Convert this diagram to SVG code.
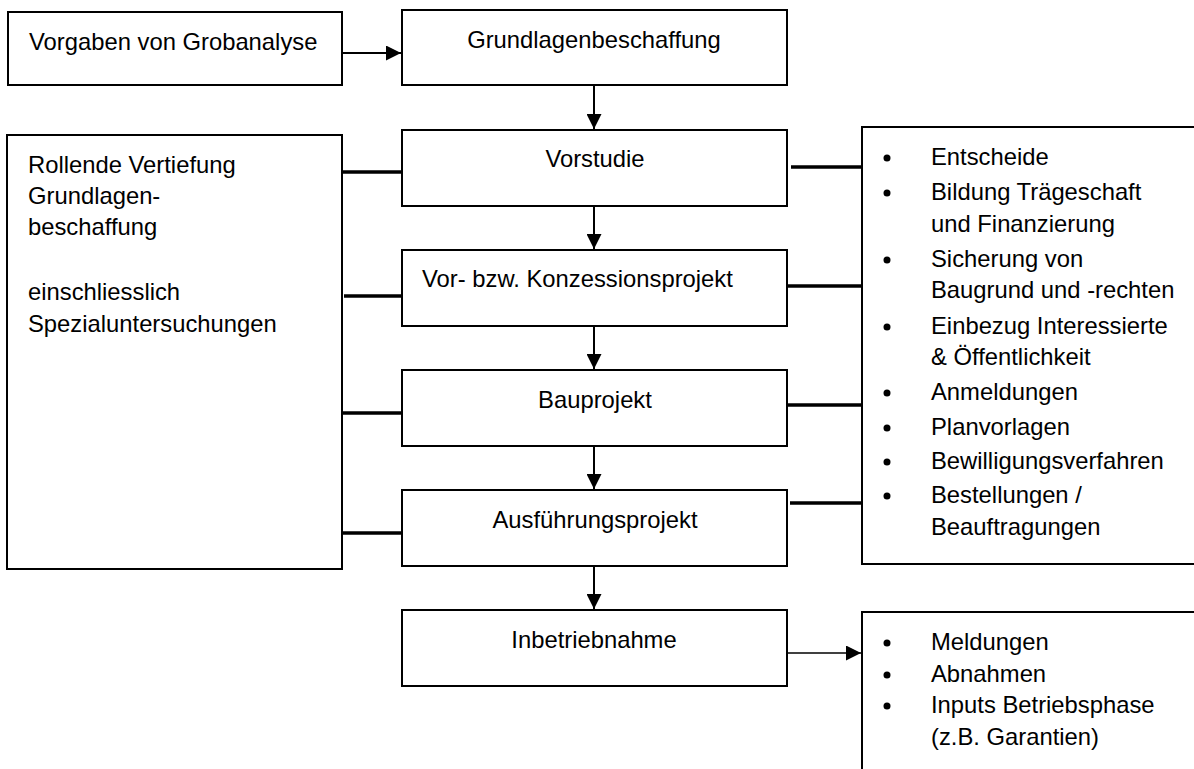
<svg xmlns="http://www.w3.org/2000/svg" width="1194" height="769" viewBox="0 0 1194 769">
<style>
text{font-family:"Liberation Sans",Arial,sans-serif;font-size:23.8px;fill:#000}
.box{fill:#fff;stroke:#000;stroke-width:2}
.c{text-anchor:middle}
.arr{stroke:#000;stroke-width:2;fill:none}
.thin{stroke:#000;stroke-width:1.5;fill:none}
.thick{stroke:#000;stroke-width:3.5;fill:none}
</style>
<defs>
<marker id="ah" markerWidth="8" markerHeight="8" refX="8" refY="4" orient="auto" markerUnits="userSpaceOnUse" viewBox="0 0 8 8">
<path d="M0,0 L8,4 L0,8 Z" fill="#000"/>
</marker>
<marker id="ahb" markerWidth="15" markerHeight="15" refX="15" refY="7.5" orient="auto" markerUnits="userSpaceOnUse" viewBox="0 0 15 15">
<path d="M0,0 L15,7.5 L0,15 Z" fill="#000"/>
</marker>
</defs>
<g id="connectors">
<line class="arr" x1="342" y1="53" x2="401" y2="53" marker-end="url(#ahb)"/>
<line class="arr" x1="594" y1="85" x2="594" y2="129" marker-end="url(#ahb)"/>
<line class="arr" x1="594" y1="205" x2="594" y2="249" marker-end="url(#ahb)"/>
<line class="arr" x1="594" y1="326" x2="594" y2="369" marker-end="url(#ahb)"/>
<line class="arr" x1="594" y1="446" x2="594" y2="489" marker-end="url(#ahb)"/>
<line class="arr" x1="594" y1="566" x2="594" y2="609" marker-end="url(#ahb)"/>
<line class="thick" x1="342" y1="172" x2="401" y2="172"/>
<line class="thick" x1="344" y1="296" x2="401" y2="296"/>
<line class="thick" x1="342" y1="413" x2="401" y2="413"/>
<line class="thick" x1="342" y1="533" x2="401" y2="533"/>
<line class="thick" x1="791" y1="167" x2="862" y2="167"/>
<line class="thick" x1="788" y1="286" x2="862" y2="286"/>
<line class="thick" x1="788" y1="405" x2="862" y2="405"/>
<line class="thick" x1="790" y1="503" x2="862" y2="503"/>
<line class="thin" x1="782" y1="653" x2="861" y2="653" marker-end="url(#ahb)"/>
</g>
<g id="vorgaben">
<rect class="box" x="8" y="12" width="334" height="73"/>
<text x="29" y="50">Vorgaben von Grobanalyse</text>
</g>
<g id="grundlagen">
<rect class="box" x="402" y="10" width="385" height="75"/>
<text class="c" x="594" y="48">Grundlagenbeschaffung</text>
</g>
<g id="vorstudie">
<rect class="box" x="402" y="130" width="385" height="76"/>
<text class="c" x="595" y="167">Vorstudie</text>
</g>
<g id="vorprojekt">
<rect class="box" x="402" y="250" width="385" height="76"/>
<text x="422" y="287">Vor- bzw. Konzessionsprojekt</text>
</g>
<g id="bauprojekt">
<rect class="box" x="402" y="370" width="385" height="76"/>
<text class="c" x="595" y="408">Bauprojekt</text>
</g>
<g id="ausfuehrung">
<rect class="box" x="402" y="490" width="385" height="76"/>
<text class="c" x="595" y="528">Ausführungsprojekt</text>
</g>
<g id="inbetrieb">
<rect class="box" x="402" y="610" width="385" height="76"/>
<text class="c" x="594" y="648">Inbetriebnahme</text>
</g>
<g id="rollende">
<rect class="box" x="7" y="135" width="335" height="434"/>
<text x="28" y="173">Rollende Vertiefung</text>
<text x="28" y="204">Grundlagen-</text>
<text x="28" y="235">beschaffung</text>
<text x="28" y="300">einschliesslich</text>
<text x="28" y="332">Spezialuntersuchungen</text>
</g>
<g id="massnahmen">
<rect class="box" x="862" y="127" width="340" height="437"/>
<g>
<circle cx="887" cy="158" r="3.5"/><text x="931" y="165">Entscheide</text>
<circle cx="887" cy="193" r="3.5"/><text x="931" y="200">Bildung Trägeschaft</text>
<text x="931" y="232">und Finanzierung</text>
<circle cx="887" cy="260" r="3.5"/><text x="931" y="267">Sicherung von</text>
<text x="931" y="298">Baugrund und -rechten</text>
<circle cx="887" cy="327" r="3.5"/><text x="931" y="334">Einbezug Interessierte</text>
<text x="931" y="365">&amp; Öffentlichkeit</text>
<circle cx="887" cy="393" r="3.5"/><text x="931" y="400">Anmeldungen</text>
<circle cx="887" cy="428" r="3.5"/><text x="931" y="435">Planvorlagen</text>
<circle cx="887" cy="462" r="3.5"/><text x="931" y="469">Bewilligungsverfahren</text>
<circle cx="887" cy="496" r="3.5"/><text x="931" y="503">Bestellungen /</text>
<text x="931" y="535">Beauftragungen</text>
</g>
</g>
<g id="betrieb">
<rect class="box" x="862" y="612" width="340" height="170"/>
<circle cx="887" cy="643" r="3.5"/><text x="931" y="650">Meldungen</text>
<circle cx="887" cy="675" r="3.5"/><text x="931" y="682">Abnahmen</text>
<circle cx="887" cy="706" r="3.5"/><text x="931" y="713">Inputs Betriebsphase</text>
<text x="931" y="745">(z.B. Garantien)</text>
</g>
</svg>
